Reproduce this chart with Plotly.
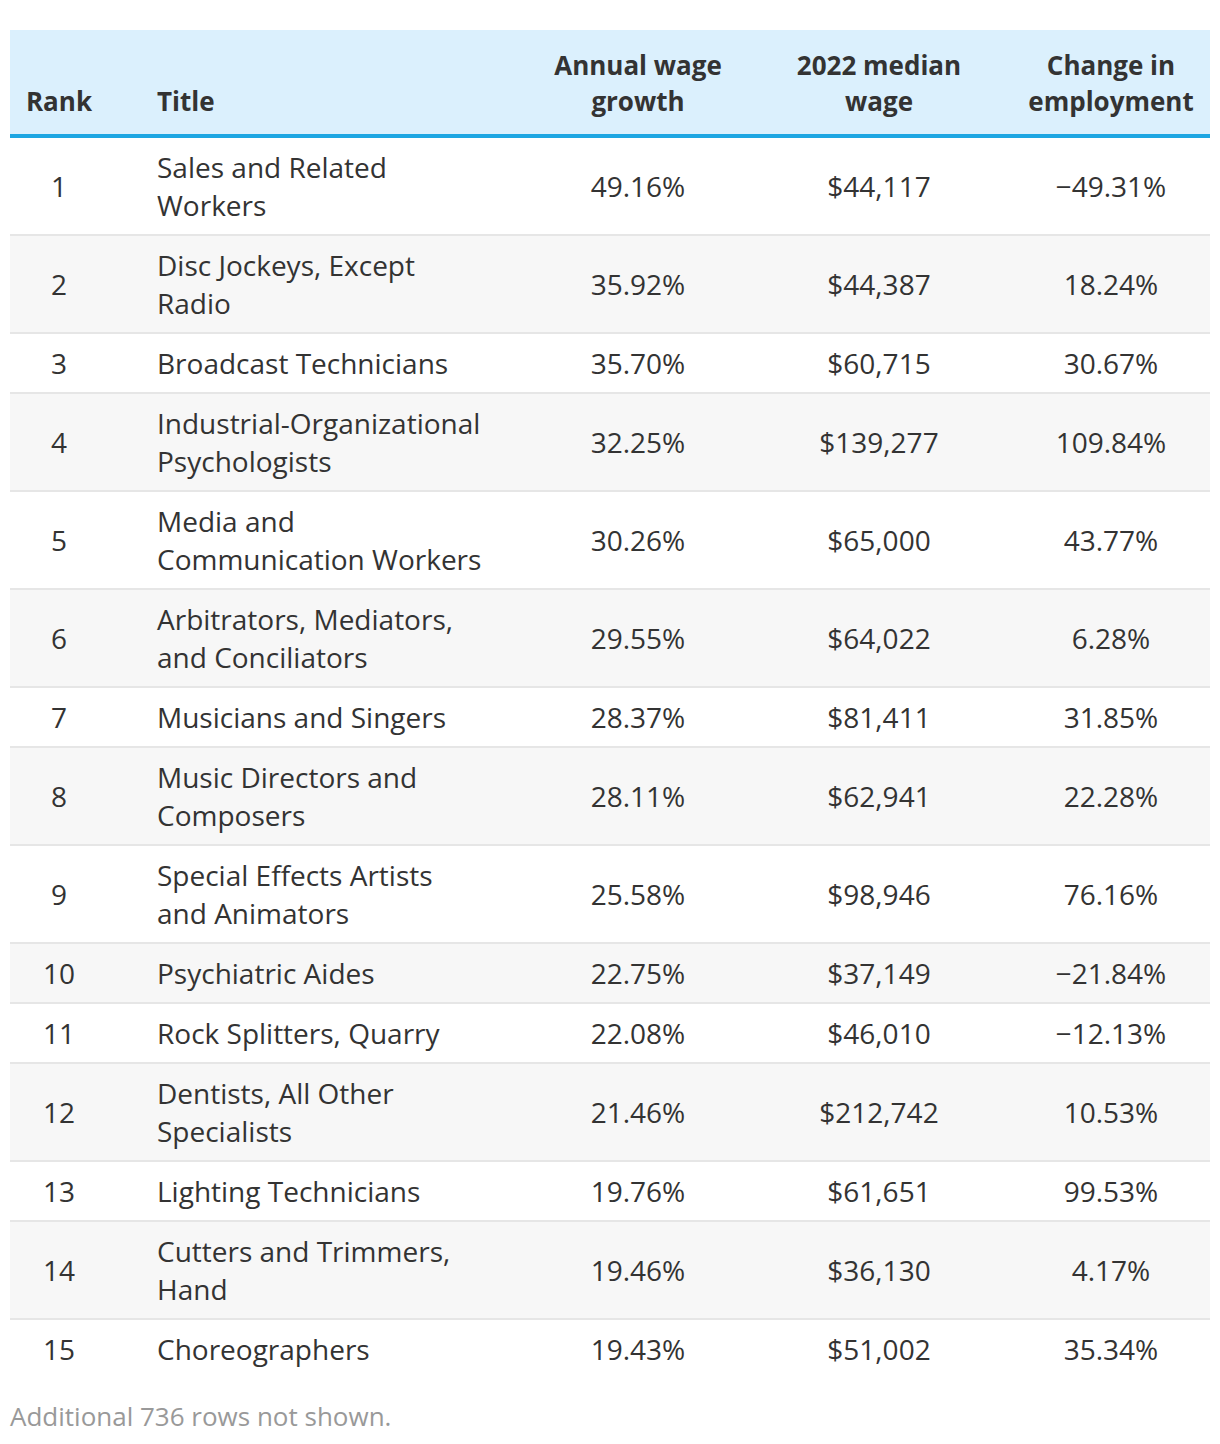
import plotly.graph_objects as go

# ---------------- data ----------------
ranks = list(range(1, 16))
titles = [
    "Sales and Related<br>Workers",
    "Disc Jockeys, Except<br>Radio",
    "Broadcast Technicians",
    "Industrial-Organizational<br>Psychologists",
    "Media and<br>Communication Workers",
    "Arbitrators, Mediators,<br>and Conciliators",
    "Musicians and Singers",
    "Music Directors and<br>Composers",
    "Special Effects Artists<br>and Animators",
    "Psychiatric Aides",
    "Rock Splitters, Quarry",
    "Dentists, All Other<br>Specialists",
    "Lighting Technicians",
    "Cutters and Trimmers,<br>Hand",
    "Choreographers",
]
wage_growth = [49.16, 35.92, 35.70, 32.25, 30.26, 29.55, 28.37, 28.11,
               25.58, 22.75, 22.08, 21.46, 19.76, 19.46, 19.43]
median_wage = [44117, 44387, 60715, 139277, 65000, 64022, 81411, 62941,
               98946, 37149, 46010, 212742, 61651, 36130, 51002]
emp_change = [-49.31, 18.24, 30.67, 109.84, 43.77, 6.28, 31.85, 22.28,
              76.16, -21.84, -12.13, 10.53, 99.53, 4.17, 35.34]
headers = ["Rank", "Title", "Annual wage<br>growth", "2022 median<br>wage", "Change in<br>employment"]
footnote = "Additional 736 rows not shown."

# ---------------- style ----------------
W, H = 1220, 1444
FONT = "Open Sans"
TXT = "#333333"
HEAD_BG = "#dbf0fd"
HEAD_LINE = "#1da6e2"
ALT_BG = "#f7f7f7"
BORDER = "#e6e6e6"
BODY_SIZE = 28
HEAD_SIZE = 26
LINE_H = 38
HEAD_LINE_H = 36
ROW_BASE = 58
BORDER_W = 2
TABLE_L, TABLE_R = 10, 1210
TABLE_TOP = 30
HEAD_H = 104
HEAD_RULE = 4
HEAD_SHIFT = 3
BODY_SHIFT = 4
col_x = [59, 157, 638, 879, 1111]
col_align = ["center", "left", "center", "center", "center"]


def fmt_pct(v):
    return f"{v:.2f}%".replace("-", "\u2212")


def fmt_usd(v):
    return f"${v:,}"


rows = [[str(r), t, fmt_pct(g), fmt_usd(m), fmt_pct(c)]
        for r, t, g, m, c in zip(ranks, titles, wage_growth, median_wage, emp_change)]

fig = go.Figure()
shapes = []

# header
shapes.append(dict(type="rect", xref="x", yref="y", x0=TABLE_L, x1=TABLE_R,
                   y0=TABLE_TOP, y1=TABLE_TOP + HEAD_H, fillcolor=HEAD_BG, line_width=0, layer="below"))
shapes.append(dict(type="rect", xref="x", yref="y", x0=TABLE_L, x1=TABLE_R,
                   y0=TABLE_TOP + HEAD_H, y1=TABLE_TOP + HEAD_H + HEAD_RULE,
                   fillcolor=HEAD_LINE, line_width=0, layer="below"))

col_pts = [dict(x=[], y=[], text=[]) for _ in headers]
head_bottom = TABLE_TOP + HEAD_H
for ci, h in enumerate(headers):
    lines = h.split("<br>")
    n = len(lines)
    last_center = head_bottom - 33 + HEAD_SHIFT
    for li, ln in enumerate(lines):
        col_pts[ci]["x"].append(col_x[ci])
        col_pts[ci]["y"].append(last_center - (n - 1 - li) * HEAD_LINE_H)
        col_pts[ci]["text"].append(ln)

for ci in range(len(headers)):
    pos = "middle center" if col_align[ci] == "center" else "middle right"
    fig.add_trace(go.Scatter(
        x=col_pts[ci]["x"], y=col_pts[ci]["y"], text=col_pts[ci]["text"],
        mode="text", textposition=pos, hoverinfo="skip", showlegend=False,
        textfont=dict(family=FONT, size=HEAD_SIZE, color=TXT, weight="bold")))

# body rows
body_pts = [dict(x=[], y=[], text=[]) for _ in headers]
y = TABLE_TOP + HEAD_H + HEAD_RULE
for ri, row in enumerate(rows):
    nlines = max(len(c.split("<br>")) for c in row)
    rh = ROW_BASE + LINE_H * (nlines - 1)
    if ri % 2 == 1:
        shapes.append(dict(type="rect", xref="x", yref="y", x0=TABLE_L, x1=TABLE_R,
                           y0=y, y1=y + rh, fillcolor=ALT_BG, line_width=0, layer="below"))
    center = y + rh / 2 + BODY_SHIFT
    for ci, cell in enumerate(row):
        lines = cell.split("<br>")
        n = len(lines)
        for li, ln in enumerate(lines):
            body_pts[ci]["x"].append(col_x[ci])
            body_pts[ci]["y"].append(center + (li - (n - 1) / 2) * LINE_H)
            body_pts[ci]["text"].append(ln)
    y += rh
    if ri < len(rows) - 1:
        shapes.append(dict(type="rect", xref="x", yref="y", x0=TABLE_L, x1=TABLE_R,
                           y0=y, y1=y + BORDER_W, fillcolor=BORDER, line_width=0, layer="below"))
        y += BORDER_W

for ci in range(len(headers)):
    pos = "middle center" if col_align[ci] == "center" else "middle right"
    fig.add_trace(go.Scatter(
        x=body_pts[ci]["x"], y=body_pts[ci]["y"], text=body_pts[ci]["text"],
        mode="text", textposition=pos, hoverinfo="skip", showlegend=False,
        textfont=dict(family=FONT, size=BODY_SIZE, color=TXT)))

# footnote
fig.add_trace(go.Scatter(
    x=[TABLE_L], y=[y + 39 + HEAD_SHIFT - 1], text=[footnote], mode="text", textposition="middle right",
    hoverinfo="skip", showlegend=False,
    textfont=dict(family=FONT, size=26, color="#999999")))

fig.update_layout(
    width=W, height=H, margin=dict(l=0, r=0, t=0, b=0),
    paper_bgcolor="white", plot_bgcolor="white",
    shapes=shapes,
    hovermode=False,
    xaxis=dict(range=[0, W], visible=False, fixedrange=True),
    yaxis=dict(range=[H, 0], visible=False, fixedrange=True),
)

fig.write_html("out.html", config={"displayModeBar": False},
               post_script="document.body.style.margin='0px';")
